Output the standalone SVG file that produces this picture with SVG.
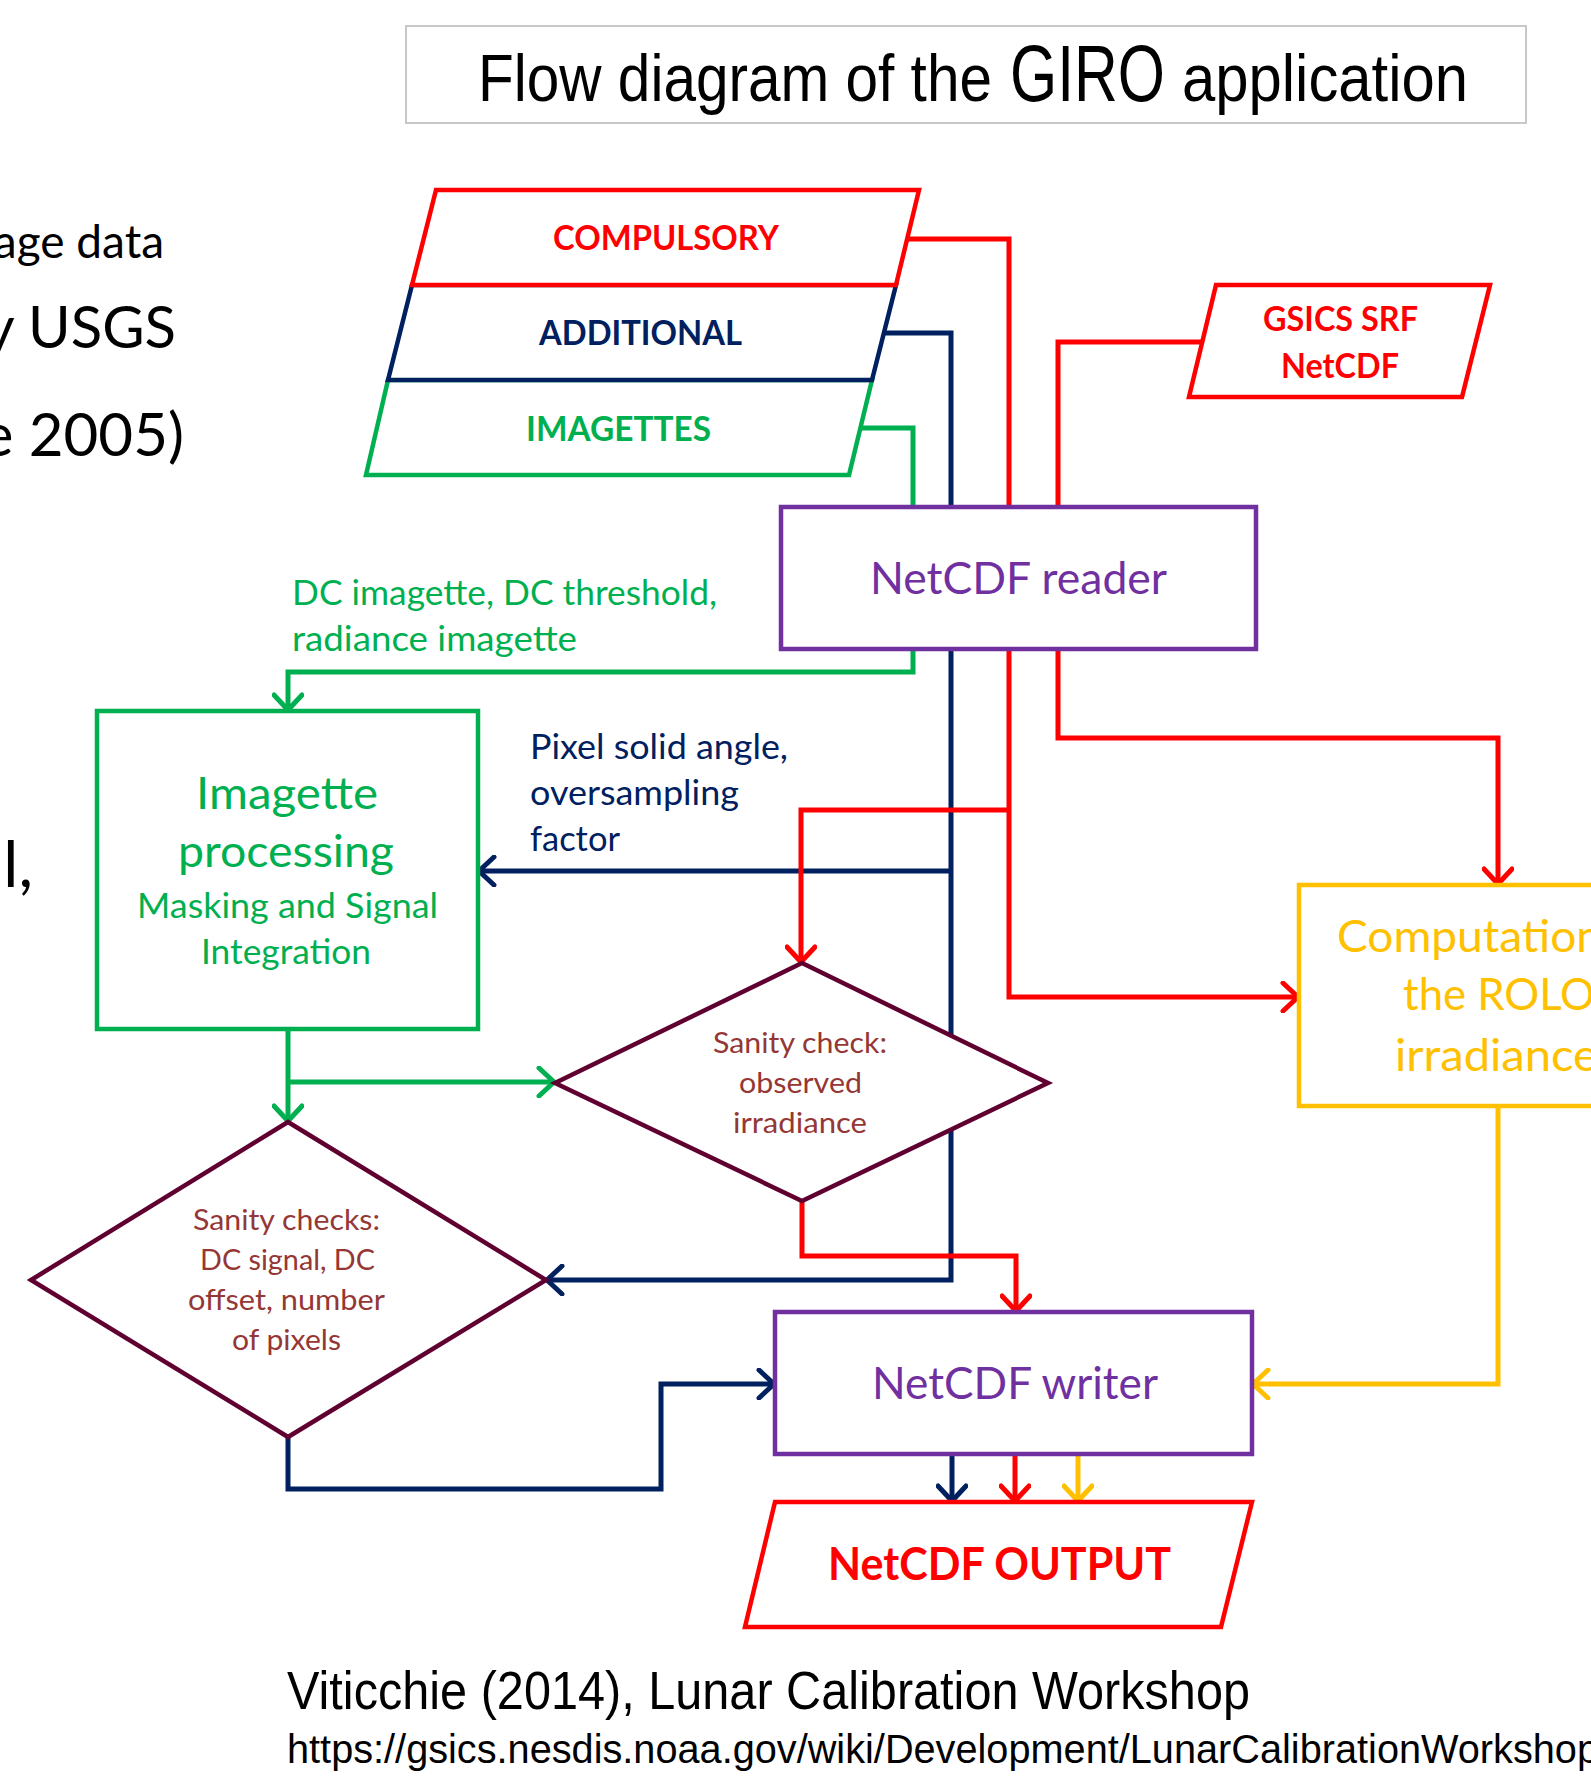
<svg xmlns="http://www.w3.org/2000/svg" width="1591" height="1779" viewBox="0 0 1591 1779">
<style>
.ln{fill:none;stroke-width:5;stroke-linejoin:miter}
.r{stroke:#FF0000}.n{stroke:#002060}.g{stroke:#00B050}.y{stroke:#FFC000}
.shape{fill:#FFFFFF;stroke-width:4.5}
.lato{font-family:Lato,"Liberation Sans",sans-serif}
.cond{font-family:"Liberation Sans",Arial,sans-serif;fill:#000}
.dia{fill:#FFFFFF;stroke:#600030;stroke-width:4.5}
.dt{font-family:Lato,"Liberation Sans",sans-serif;fill:#953735;font-size:29.5px}
</style>
<defs>
<marker id="aR" viewBox="0 0 32 32" refX="28" refY="16" markerWidth="32" markerHeight="32" markerUnits="userSpaceOnUse" orient="auto"><path d="M12,2 L27,16 L12,30" fill="none" stroke="#FF0000" stroke-width="5" stroke-linecap="round" stroke-linejoin="round"/></marker>
<marker id="aN" viewBox="0 0 32 32" refX="28" refY="16" markerWidth="32" markerHeight="32" markerUnits="userSpaceOnUse" orient="auto"><path d="M12,2 L27,16 L12,30" fill="none" stroke="#002060" stroke-width="5" stroke-linecap="round" stroke-linejoin="round"/></marker>
<marker id="aG" viewBox="0 0 32 32" refX="28" refY="16" markerWidth="32" markerHeight="32" markerUnits="userSpaceOnUse" orient="auto"><path d="M12,2 L27,16 L12,30" fill="none" stroke="#00B050" stroke-width="5" stroke-linecap="round" stroke-linejoin="round"/></marker>
<marker id="aY" viewBox="0 0 32 32" refX="28" refY="16" markerWidth="32" markerHeight="32" markerUnits="userSpaceOnUse" orient="auto"><path d="M12,2 L27,16 L12,30" fill="none" stroke="#FFC000" stroke-width="5" stroke-linecap="round" stroke-linejoin="round"/></marker>
</defs>
<rect width="1591" height="1779" fill="#FFFFFF"/>

<g id="slide-background-text" class="lato" fill="#000">
<text x="164" y="258" font-size="46" text-anchor="end">age data</text>
<text x="176" y="348" font-size="58" text-anchor="end">y USGS</text>
<text x="184" y="456" font-size="60" text-anchor="end">e 2005)</text>
<text x="33" y="887" font-size="64" text-anchor="end">l,</text>
</g>

<g id="title">
<rect x="406" y="26" width="1120" height="97" fill="#FFFFFF" stroke="#C8C8C8" stroke-width="2"/>
<text class="cond" x="478" y="101" font-size="66" textLength="514" lengthAdjust="spacingAndGlyphs">Flow diagram of the</text>
<text class="cond" x="1010" y="101" font-size="79" textLength="155" lengthAdjust="spacingAndGlyphs">GIRO</text>
<text class="cond" x="1182" y="101" font-size="66" textLength="286" lengthAdjust="spacingAndGlyphs">application</text>
</g>

<g id="connectors">
<path class="ln r" d="M906,239 H1009 V507"/>
<path class="ln n" d="M884,333 H951 V507"/>
<path class="ln g" d="M861,428 H913 V507"/>
<path class="ln r" d="M1202,342 H1058 V507"/>
<path class="ln g" d="M913,649 V672 H288 V711" marker-end="url(#aG)"/>
<path class="ln n" d="M951,649 V1280 H546" marker-end="url(#aN)"/>
<path class="ln n" d="M951,871 H478" marker-end="url(#aN)"/>
<path class="ln r" d="M1009,649 V997 H1299" marker-end="url(#aR)"/>
<path class="ln r" d="M1009,810 H801 V963" marker-end="url(#aR)"/>
<path class="ln r" d="M1058,649 V738 H1498 V885" marker-end="url(#aR)"/>
<path class="ln g" d="M288,1029 V1122" marker-end="url(#aG)"/>
<path class="ln g" d="M288,1082 H555" marker-end="url(#aG)"/>
<path class="ln r" d="M802,1201 V1256 H1016 V1312" marker-end="url(#aR)"/>
<path class="ln n" d="M288,1437 V1489 H661 V1384 H775" marker-end="url(#aN)"/>
<path class="ln y" d="M1498,1106 V1384 H1252" marker-end="url(#aY)"/>
<path class="ln n" d="M952,1454 V1502" marker-end="url(#aN)"/>
<path class="ln r" d="M1015,1454 V1502" marker-end="url(#aR)"/>
<path class="ln y" d="M1078,1454 V1502" marker-end="url(#aY)"/>
</g>

<g id="imagettes-input">
<polygon class="shape" points="388,380 872,380 849,475 366,475" stroke="#00B050"/>
<text class="lato" x="526" y="441" font-size="34" font-weight="bold" fill="#00B050" textLength="185" lengthAdjust="spacingAndGlyphs">IMAGETTES</text>
</g>
<g id="additional-input">
<polygon class="shape" points="412,285 896,285 872,380 388,380" stroke="#002060"/>
<text class="lato" x="539" y="345" font-size="34" font-weight="bold" fill="#002060" textLength="203" lengthAdjust="spacingAndGlyphs">ADDITIONAL</text>
</g>
<g id="compulsory-input">
<polygon class="shape" points="436,190 919,190 896,285 412,285" stroke="#FF0000"/>
<text class="lato" x="553" y="250" font-size="34" font-weight="bold" fill="#FF0000" textLength="226" lengthAdjust="spacingAndGlyphs">COMPULSORY</text>
</g>

<g id="gsics-srf">
<polygon class="shape" points="1216,285 1490,285 1462,397 1189,397" stroke="#FF0000"/>
<text class="lato" x="1263" y="331" font-size="34" font-weight="bold" fill="#FF0000" textLength="155" lengthAdjust="spacingAndGlyphs">GSICS SRF</text>
<text class="lato" x="1281" y="378" font-size="34" font-weight="bold" fill="#FF0000" textLength="118" lengthAdjust="spacingAndGlyphs">NetCDF</text>
</g>

<g id="netcdf-reader">
<rect class="shape" x="781" y="507" width="475" height="142" stroke="#7030A0"/>
<text class="lato" x="870" y="594" font-size="45" fill="#7030A0" textLength="297" lengthAdjust="spacingAndGlyphs">NetCDF reader</text>
</g>

<g id="label-dc">
<text class="lato" x="292" y="605" font-size="35" fill="#00B050" textLength="425" lengthAdjust="spacingAndGlyphs">DC imagette, DC threshold,</text>
<text class="lato" x="292" y="651" font-size="35" fill="#00B050" textLength="285" lengthAdjust="spacingAndGlyphs">radiance imagette</text>
</g>

<g id="label-pixel">
<text class="lato" x="530" y="759" font-size="35" fill="#002060" textLength="258" lengthAdjust="spacingAndGlyphs">Pixel solid angle,</text>
<text class="lato" x="530" y="805" font-size="35" fill="#002060" textLength="209" lengthAdjust="spacingAndGlyphs">oversampling</text>
<text class="lato" x="530" y="851" font-size="35" fill="#002060" textLength="90" lengthAdjust="spacingAndGlyphs">factor</text>
</g>

<g id="imagette-processing">
<rect class="shape" x="97" y="711" width="381" height="318" stroke="#00B050"/>
<text class="lato" x="196" y="809" font-size="45" fill="#00B050" textLength="182" lengthAdjust="spacingAndGlyphs">Imagette</text>
<text class="lato" x="178" y="867" font-size="45" fill="#00B050" textLength="216" lengthAdjust="spacingAndGlyphs">processing</text>
<text class="lato" x="137" y="918" font-size="34" fill="#00B050" textLength="301" lengthAdjust="spacingAndGlyphs">Masking and Signal</text>
<text class="lato" x="201" y="964" font-size="34" fill="#00B050" textLength="170" lengthAdjust="spacingAndGlyphs">Integration</text>
</g>

<g id="sanity-check-observed">
<polygon class="dia" points="802,963 1048,1083 802,1201 555,1083"/>
<text class="dt" x="713" y="1053" textLength="174" lengthAdjust="spacingAndGlyphs">Sanity check:</text>
<text class="dt" x="739" y="1093" textLength="123" lengthAdjust="spacingAndGlyphs">observed</text>
<text class="dt" x="733" y="1133" textLength="134" lengthAdjust="spacingAndGlyphs">irradiance</text>
</g>

<g id="sanity-checks-dc">
<polygon class="dia" points="288,1122 546,1280 288,1437 31,1280"/>
<text class="dt" x="193" y="1230" textLength="187" lengthAdjust="spacingAndGlyphs">Sanity checks:</text>
<text class="dt" x="200" y="1270" textLength="175" lengthAdjust="spacingAndGlyphs">DC signal, DC</text>
<text class="dt" x="188" y="1310" textLength="197" lengthAdjust="spacingAndGlyphs">offset, number</text>
<text class="dt" x="232" y="1350" textLength="109" lengthAdjust="spacingAndGlyphs">of pixels</text>
</g>

<g id="computation-rolo">
<rect class="shape" x="1299" y="885" width="400" height="221" stroke="#FFC000"/>
<text class="lato" x="1337" y="952" font-size="45" fill="#FFC000" textLength="265" lengthAdjust="spacingAndGlyphs">Computation</text>
<text class="lato" x="1403" y="1010" font-size="45" fill="#FFC000" textLength="192" lengthAdjust="spacingAndGlyphs">the ROLO</text>
<text class="lato" x="1395" y="1071" font-size="45" fill="#FFC000" textLength="203" lengthAdjust="spacingAndGlyphs">irradiance</text>
</g>

<g id="netcdf-writer">
<rect class="shape" x="775" y="1312" width="477" height="142" stroke="#7030A0"/>
<text class="lato" x="872" y="1399" font-size="45" fill="#7030A0" textLength="286" lengthAdjust="spacingAndGlyphs">NetCDF writer</text>
</g>

<g id="netcdf-output">
<polygon class="shape" points="775,1502 1252,1502 1221,1627 745,1627" stroke="#FF0000"/>
<text class="lato" x="828" y="1580" font-size="45" font-weight="bold" fill="#FF0000" textLength="343" lengthAdjust="spacingAndGlyphs">NetCDF OUTPUT</text>
</g>

<g id="citation">
<text class="cond" x="287" y="1709" font-size="53" textLength="963" lengthAdjust="spacingAndGlyphs">Viticchie (2014), Lunar Calibration Workshop</text>
<text class="cond" x="287" y="1763" font-size="40" textLength="1312" lengthAdjust="spacingAndGlyphs">https://gsics.nesdis.noaa.gov/wiki/Development/LunarCalibrationWorkshop</text>
</g>
</svg>
